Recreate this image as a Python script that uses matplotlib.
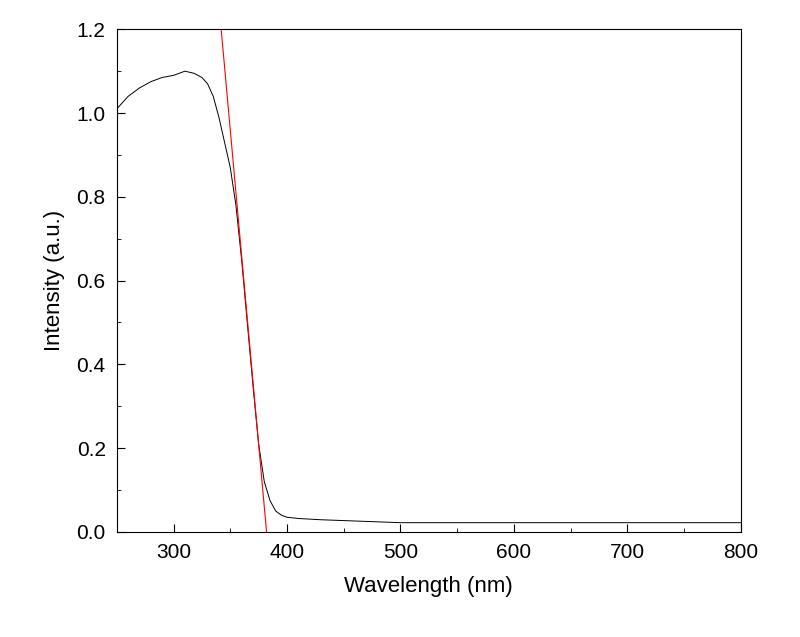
import matplotlib
matplotlib.use('Agg')
import matplotlib.pyplot as plt
from matplotlib.ticker import MultipleLocator

plt.rcParams['font.family'] = ['Liberation Sans', 'DejaVu Sans']

# spectrum
wavelength = [250, 260, 270, 280, 290, 300, 310, 318, 325, 330, 335, 340, 345, 350, 355,
              360, 365, 370, 375, 380, 385, 390, 395, 400, 410, 430, 450, 500, 600, 700, 800]
intensity = [1.01, 1.04, 1.06, 1.075, 1.085, 1.09, 1.10, 1.095, 1.085, 1.07, 1.04, 0.99, 0.93,
             0.87, 0.78, 0.65, 0.50, 0.35, 0.21, 0.12, 0.075, 0.05, 0.04, 0.035, 0.032,
             0.029, 0.027, 0.022, 0.022, 0.022, 0.022]

# tangent line used to find the band edge
fit_x = [342, 382]
fit_y = [1.2, 0.0]

fig = plt.figure(figsize=(8, 6.37), dpi=100)
ax = fig.add_axes([0.146, 0.165, 0.78, 0.789])

ax.plot(wavelength, intensity, color='black', linewidth=0.7)
ax.plot(fit_x, fit_y, color='red', linewidth=0.8)

ax.set_xlim(250, 800)
ax.set_ylim(0, 1.2)
ax.xaxis.set_major_locator(MultipleLocator(100))
ax.xaxis.set_minor_locator(MultipleLocator(50))
ax.yaxis.set_major_locator(MultipleLocator(0.2))
ax.yaxis.set_minor_locator(MultipleLocator(0.1))
ax.yaxis.set_major_formatter(plt.FuncFormatter(lambda v, p: f"{v:.1f}"))
ax.tick_params(which='both', direction='in', labelsize=15, pad=8)
ax.tick_params(which='major', length=6)
ax.tick_params(which='minor', length=3)
ax.set_xlabel("Wavelength (nm)", fontsize=16, labelpad=10)
ax.set_ylabel("Intensity (a.u.)", fontsize=16, labelpad=8)

plt.savefig("out.png", dpi=100)
